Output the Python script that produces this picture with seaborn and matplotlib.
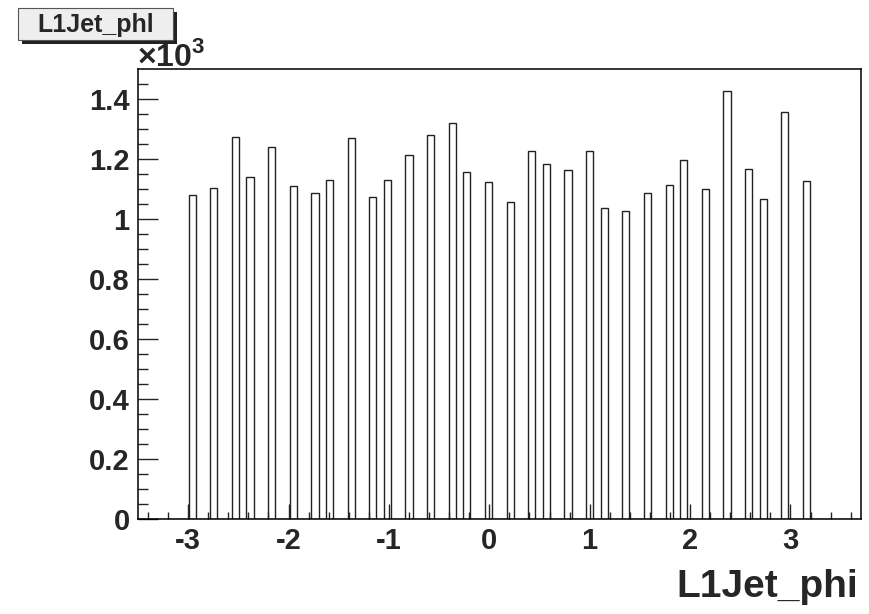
import numpy as np
import pandas as pd
import seaborn as sns
import matplotlib.pyplot as plt
from matplotlib.patches import Rectangle
from matplotlib.ticker import MultipleLocator, FuncFormatter

# histogram: 100 bins from -3.5 to 3.7, only these bins are filled
phi = [-2.960, -2.744, -2.528, -2.384, -2.168, -1.952, -1.736, -1.592,
       -1.376, -1.160, -1.016, -0.800, -0.584, -0.368, -0.224, -0.008,
       0.208, 0.424, 0.568, 0.784, 1.000, 1.144, 1.360, 1.576,
       1.792, 1.936, 2.152, 2.368, 2.584, 2.728, 2.944, 3.160]
counts = [1078, 1102, 1271, 1139, 1238, 1110, 1084, 1128,
          1268, 1072, 1128, 1212, 1277, 1319, 1154, 1121,
          1056, 1227, 1181, 1163, 1224, 1036, 1025, 1086,
          1111, 1194, 1100, 1426, 1166, 1064, 1354, 1124]
n_bins = 100
x_range = (-3.5, 3.7)
hist_name = 'L1Jet_phi'

df = pd.DataFrame({'phi': phi, 'n': counts})

sns.set_style('white')
plt.rcParams['font.family'] = ['Liberation Sans', 'DejaVu Sans']
plt.rcParams['font.weight'] = 'bold'
plt.rcParams['mathtext.fontset'] = 'custom'
plt.rcParams['mathtext.rm'] = 'Liberation Sans'
plt.rcParams['mathtext.bf'] = 'Liberation Sans:bold'

fig = plt.figure(figsize=(8.7, 6.14), dpi=100)
ax = fig.add_axes([0.1586, 0.1547, 0.9893 - 0.1586, 0.8871 - 0.1547])

sns.histplot(data=df, x='phi', weights='n', bins=n_bins, binrange=x_range,
             element='bars', fill=False, color='#222222', linewidth=1.0, ax=ax)

ax.set_xlim(*x_range)
ax.set_ylim(0, 1.05 * max(counts))
ax.set_ylabel('')
ax.set_xlabel('')

for s in ax.spines.values():
    s.set_linewidth(1.1)
    s.set_color('black')

ax.xaxis.set_major_locator(MultipleLocator(1))
ax.xaxis.set_minor_locator(MultipleLocator(0.2))
ax.yaxis.set_major_locator(MultipleLocator(200))
ax.yaxis.set_minor_locator(MultipleLocator(50))
ax.yaxis.set_major_formatter(FuncFormatter(lambda v, p: '%g' % (v / 1000)))
ax.xaxis.set_major_formatter(FuncFormatter(lambda v, p: '%g' % v))

ax.tick_params(axis='x', which='major', direction='in', length=10.6, width=1,
               labelsize=21, pad=6, top=False, bottom=True)
ax.tick_params(axis='x', which='minor', direction='in', length=5.3, width=1,
               top=False, bottom=True)
ax.tick_params(axis='y', which='major', direction='in', length=14.4, width=1,
               labelsize=21, pad=6, right=False, left=True)
ax.tick_params(axis='y', which='minor', direction='in', length=7.2, width=1,
               right=False, left=True)
for lab in ax.get_xticklabels() + ax.get_yticklabels():
    lab.set_fontweight('bold')

# x axis title, right aligned
fig.text(0.986, 0.028, hist_name, ha='right', va='baseline', fontsize=28,
         fontweight='bold')

# exponent label
fig.text(0.157, 0.893, r'$\times\mathbf{10}^{\mathbf{3}}$', ha='left',
         va='baseline', fontsize=23)

# ROOT style title box with shadow
fig.patches.append(Rectangle((0.0253, 0.928), 0.178, 0.052, transform=fig.transFigure,
                             facecolor='#222222', edgecolor='none', zorder=1))
fig.patches.append(Rectangle((0.0207, 0.935), 0.178, 0.052, transform=fig.transFigure,
                             facecolor='#eeeeee', edgecolor='#555555', linewidth=0.8,
                             zorder=2))
fig.text(0.1096, 0.960, 'L1Jet_phl', ha='center', va='center', fontsize=18,
         fontweight='bold', zorder=3)

plt.savefig('out.png', dpi=100)
